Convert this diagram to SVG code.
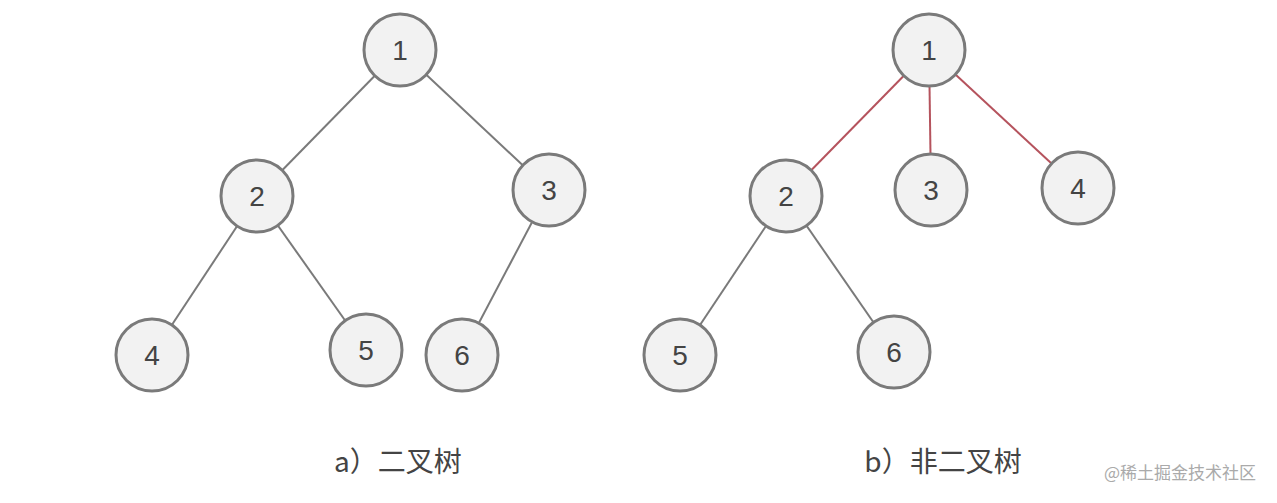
<svg xmlns="http://www.w3.org/2000/svg" width="1277" height="503" viewBox="0 0 1277 503">
<style>
.n circle{fill:#f2f2f2;stroke:#7a7a7a;stroke-width:3}
.n text{font-family:"Liberation Sans","Noto Sans",sans-serif;font-size:28px;fill:#444;text-anchor:middle;dominant-baseline:central}
.e line{stroke:#7a7a7a;stroke-width:2}
.e line.r{stroke:#b5535d}
.cap{font-family:"Noto Sans CJK SC",sans-serif;font-size:28px;fill:#444;text-anchor:middle}
</style>
<rect width="1277" height="503" fill="#fff"/>
<g class="e">
<line x1="400" y1="50" x2="257" y2="196"/>
<line x1="400" y1="50" x2="549" y2="190"/>
<line x1="257" y1="196" x2="152" y2="355"/>
<line x1="257" y1="196" x2="366" y2="350"/>
<line x1="549" y1="190" x2="462" y2="355"/>
<line class="r" x1="929" y1="50" x2="786" y2="196"/>
<line class="r" x1="929" y1="50" x2="931" y2="190"/>
<line class="r" x1="929" y1="50" x2="1078" y2="188"/>
<line x1="786" y1="196" x2="680" y2="355"/>
<line x1="786" y1="196" x2="894" y2="352"/>
</g>
<g id="a1" class="n"><circle cx="400" cy="50" r="36"/><text x="400" y="50">1</text></g>
<g id="a2" class="n"><circle cx="257" cy="196" r="36"/><text x="257" y="196">2</text></g>
<g id="a3" class="n"><circle cx="549" cy="190" r="36"/><text x="549" y="190">3</text></g>
<g id="a4" class="n"><circle cx="152" cy="355" r="36"/><text x="152" y="355">4</text></g>
<g id="a5" class="n"><circle cx="366" cy="350" r="36"/><text x="366" y="350">5</text></g>
<g id="a6" class="n"><circle cx="462" cy="355" r="36"/><text x="462" y="355">6</text></g>
<g id="b1" class="n"><circle cx="929" cy="50" r="36"/><text x="929" y="50">1</text></g>
<g id="b2" class="n"><circle cx="786" cy="196" r="36"/><text x="786" y="196">2</text></g>
<g id="b3" class="n"><circle cx="931" cy="190" r="36"/><text x="931" y="190">3</text></g>
<g id="b4" class="n"><circle cx="1078" cy="188" r="36"/><text x="1078" y="188">4</text></g>
<g id="b5" class="n"><circle cx="680" cy="355" r="36"/><text x="680" y="355">5</text></g>
<g id="b6" class="n"><circle cx="894" cy="352" r="36"/><text x="894" y="352">6</text></g>
<text class="cap" x="398" y="472">a）二叉树</text>
<text class="cap" x="943" y="472">b）非二叉树</text>
<text x="1180" y="479" font-family="Noto Sans CJK SC,sans-serif" font-size="17" fill="#aaa" text-anchor="middle">@稀土掘金技术社区</text>
</svg>
